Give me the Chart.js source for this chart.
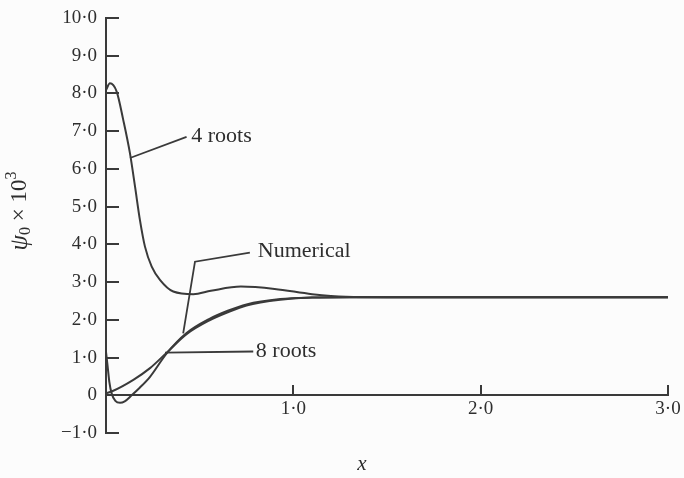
<!DOCTYPE html>
<html lang="en">

<head>
    <meta charset="UTF-8">
    <title>psi_0 against x</title>
    <style>
        body {
            margin: 0;
            background-color: #fcfcfc;
        }

        canvas {
            display: block;
        }
    </style>
</head>

<body>
    <canvas id="psiChart" width="684" height="478"></canvas>

    <script src="https://cdn.jsdelivr.net/npm/chart.js"></script>
    <script>
        // tick values and their printed labels
        const xTickValues = [0, 1, 2, 3];
        const xTickLabels = ['', '1·0', '2·0', '3·0'];
        const yTickValues = [-1, 0, 1, 2, 3, 4, 5, 6, 7, 8, 9, 10];
        const yTickLabels = ['−1·0', '0', '1·0', '2·0', '3·0', '4·0', '5·0', '6·0', '7·0', '8·0', '9·0', '10·0'];

        // curves
        const fourRootsX = [0, 0.021, 0.057, 0.092, 0.128, 0.155, 0.181, 0.208, 0.244, 0.288, 0.359, 0.466, 0.56, 0.72, 0.9, 1.1, 1.28, 1.5, 2.0, 2.5, 3.0];
        const fourRootsY = [8.09, 8.27, 8.05, 7.30, 6.41, 5.53, 4.65, 3.94, 3.41, 3.06, 2.75, 2.68, 2.77, 2.88, 2.82, 2.68, 2.61, 2.60, 2.60, 2.60, 2.60];

        const numericalX = [0, 0.03, 0.146, 0.235, 0.324, 0.43, 0.55, 0.65, 0.75, 0.93, 1.1, 1.3, 1.6, 2.0, 2.5, 3.0];
        const numericalY = [0.05, 0.1, 0.41, 0.72, 1.13, 1.62, 1.98, 2.2, 2.38, 2.53, 2.59, 2.6, 2.6, 2.6, 2.6, 2.6];

        const eightRootsX = [0, 0.008, 0.018, 0.03, 0.05, 0.075, 0.1, 0.137, 0.18, 0.235, 0.324, 0.43, 0.55, 0.65, 0.75, 0.93, 1.1, 1.3, 1.6, 2.0, 2.5, 3.0];
        const eightRootsY = [1.15, 0.8, 0.35, 0.05, -0.15, -0.2, -0.16, 0, 0.2, 0.49, 1.11, 1.65, 2.02, 2.24, 2.41, 2.55, 2.59, 2.6, 2.6, 2.6, 2.6, 2.6];

        const curveLabels = ['4 roots', 'Numerical', '8 roots'];

        const ink = '#3a3a3a';

        // leader lines (in data units) and where each label sits
        const leaders = [
            { path: [[0.128, 6.29], [0.43, 6.85]], text: [0.455, 6.87] },
            { path: [[0.412, 1.64], [0.475, 3.54], [0.768, 3.78]], text: [0.81, 3.81] },
            { path: [[0.315, 1.13], [0.786, 1.16]], text: [0.80, 1.16] }
        ];

        function toPoints(xs, ys) {
            return xs.map((x, i) => ({ x: x, y: ys[i] }));
        }

        // labels must not push the plot area around, the layout padding does that
        function noLabelPadding(scale) {
            scale.paddingLeft = 0;
            scale.paddingRight = 0;
            scale.paddingTop = 0;
            scale.paddingBottom = 0;
        }

        const extras = {
            id: 'extras',
            beforeDraw(chart) {
                const c = chart.ctx;
                c.save();
                c.fillStyle = '#fcfcfc';
                c.fillRect(0, 0, chart.width, chart.height);
                c.restore();
            },
            afterDraw(chart) {
                const c = chart.ctx;
                const sx = chart.scales.x;
                const sy = chart.scales.y;
                c.save();
                c.strokeStyle = ink;
                c.fillStyle = '#2e2e2e';
                c.lineWidth = 1.8;

                // leader lines + curve names
                c.font = '22px "Liberation Serif"';
                c.textBaseline = 'middle';
                c.textAlign = 'left';
                leaders.forEach((l, i) => {
                    c.beginPath();
                    l.path.forEach((p, j) => {
                        const px = sx.getPixelForValue(p[0]);
                        const py = sy.getPixelForValue(p[1]);
                        if (j === 0) c.moveTo(px, py); else c.lineTo(px, py);
                    });
                    c.stroke();
                    c.fillText(curveLabels[i], sx.getPixelForValue(l.text[0]), sy.getPixelForValue(l.text[1]));
                });

                // x axis title
                c.font = 'italic 21px "Liberation Serif"';
                c.textAlign = 'center';
                c.fillText('x', 362, 464);

                // y axis title, rotated: psi_0 x 10^3
                c.translate(20, 211);
                c.rotate(-Math.PI / 2);
                const big = '23px "Liberation Serif"';
                const bigIt = 'italic 25px "Liberation Serif"';
                const small = '16px "Liberation Serif"';
                const parts = [
                    { t: 'ψ', f: bigIt, dy: 0 },
                    { t: '0', f: small, dy: 6 },
                    { t: ' × 10', f: big, dy: 0 },
                    { t: '3', f: small, dy: -8 }
                ];
                let total = 0;
                parts.forEach(p => { c.font = p.f; p.w = c.measureText(p.t).width; total += p.w; });
                let pos = -total / 2;
                c.textAlign = 'left';
                parts.forEach(p => {
                    c.font = p.f;
                    c.fillText(p.t, pos, p.dy);
                    pos += p.w;
                });
                c.restore();
            }
        };

        Chart.defaults.font.family = '"Liberation Serif", serif';
        Chart.defaults.color = '#2e2e2e';

        const curveStyle = {
            borderColor: ink,
            borderWidth: 2,
            pointRadius: 0,
            fill: false,
            cubicInterpolationMode: 'monotone'
        };

        new Chart(document.getElementById('psiChart'), {
            type: 'line',
            data: {
                datasets: [
                    Object.assign({ label: curveLabels[0], data: toPoints(fourRootsX, fourRootsY) }, curveStyle),
                    Object.assign({ label: curveLabels[1], data: toPoints(numericalX, numericalY) }, curveStyle),
                    Object.assign({ label: curveLabels[2], data: toPoints(eightRootsX, eightRootsY) }, curveStyle)
                ]
            },
            options: {
                responsive: false,
                animation: false,
                layout: {
                    padding: { left: 0, top: 18, right: 16, bottom: 45 }
                },
                plugins: {
                    legend: { display: false },
                    tooltip: { enabled: false }
                },
                scales: {
                    x: {
                        type: 'linear',
                        position: { y: 0 },
                        min: 0,
                        max: 3,
                        afterBuildTicks: (scale) => {
                            scale.ticks = xTickValues.map(v => ({ value: v }));
                        },
                        afterFit: noLabelPadding,
                        ticks: {
                            padding: 13,
                            maxRotation: 0,
                            font: { size: 19 },
                            callback: (value) => xTickLabels[xTickValues.indexOf(value)]
                        },
                        grid: {
                            drawOnChartArea: false,
                            drawTicks: true,
                            tickLength: -11,
                            color: ink,
                            lineWidth: 2
                        },
                        border: { display: true, color: ink, width: 2 }
                    },
                    y: {
                        type: 'linear',
                        position: 'left',
                        min: -1,
                        max: 10,
                        afterBuildTicks: (scale) => {
                            scale.ticks = yTickValues.map(v => ({ value: v }));
                        },
                        afterFit: (scale) => {
                            scale.width = 106;
                            noLabelPadding(scale);
                        },
                        ticks: {
                            padding: 22,
                            font: { size: 19 },
                            callback: (value) => yTickLabels[yTickValues.indexOf(value)]
                        },
                        grid: {
                            drawOnChartArea: false,
                            drawTicks: true,
                            tickLength: -13,
                            color: ink,
                            lineWidth: 2
                        },
                        border: { display: true, color: ink, width: 2 }
                    }
                }
            },
            plugins: [extras]
        });
    </script>
</body>

</html>
